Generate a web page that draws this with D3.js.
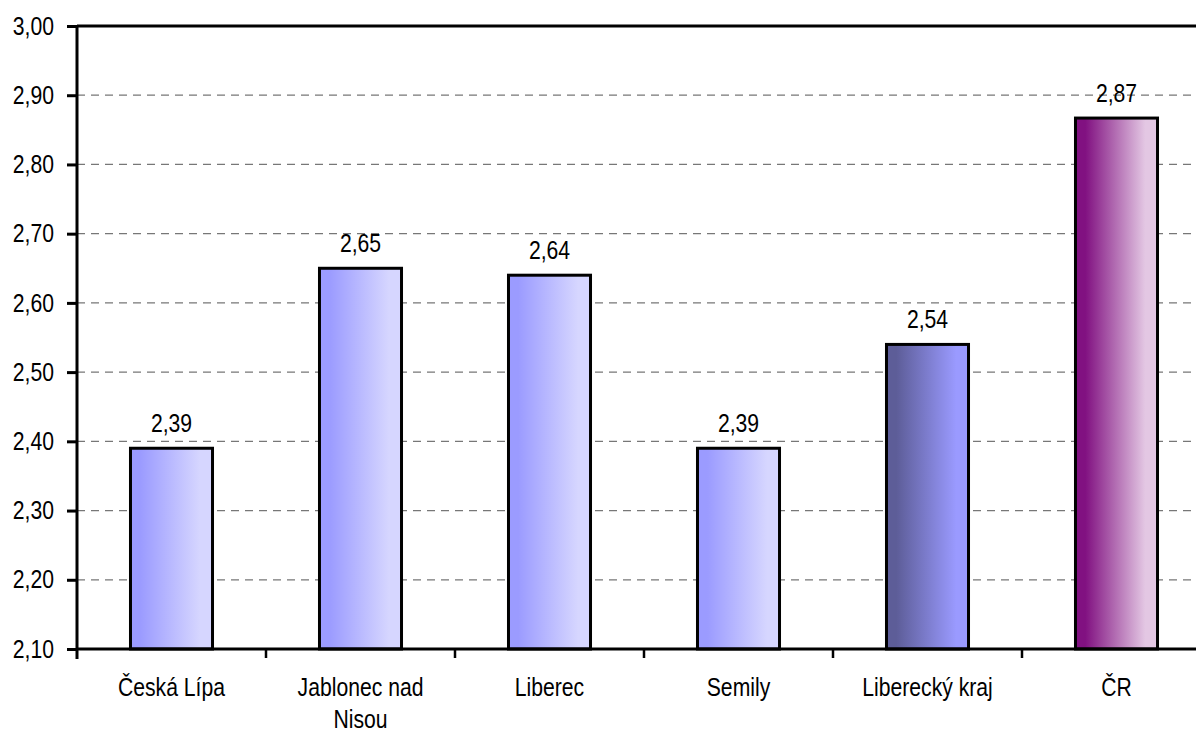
<!DOCTYPE html>
<html>
<head>
<meta charset="utf-8">
<script src="https://cdn.jsdelivr.net/npm/d3@7"></script>
<style>
  body { margin: 0; background: #fff; }
  text { font-family: Arial, "Liberation Sans", sans-serif; fill: #000; }
</style>
</head>
<body>
<div id="chart"></div>
<script>
var categories = ["Česká Lípa", "Jablonec nad Nisou", "Liberec", "Semily", "Liberecký kraj", "ČR"];
var values = [2.39, 2.65, 2.64, 2.39, 2.54, 2.867];
var fillKind = ["light", "light", "light", "light", "dark", "cr"];
var yTicks = [2.10, 2.20, 2.30, 2.40, 2.50, 2.60, 2.70, 2.80, 2.90, 3.00];

var margin = {top: 26, left: 77},
    W = 1196, H = 731,
    plotW = 189 * 6,
    plotH = 623,
    fs = 25.5, narrow = 0.83;   // Arial Narrow look-alike

var svg = d3.select("#chart").append("svg")
    .attr("width", W).attr("height", H);

var defs = svg.append("defs");
function grad(id, c1, c2) {
  var g = defs.append("linearGradient").attr("id", id)
    .attr("x1", "0%").attr("x2", "100%").attr("y1", "0%").attr("y2", "0%");
  g.append("stop").attr("offset", "12%").attr("stop-color", c1);
  g.append("stop").attr("offset", "85%").attr("stop-color", c2);
}
grad("light", "#9b9bff", "#d6d6ff");
grad("dark", "#5d5d98", "#9a9aff");
grad("cr", "#811181", "#e3c7e3");

var g = svg.append("g").attr("transform", "translate(" + margin.left + "," + margin.top + ")");

var x = d3.scaleBand().domain(categories).range([0, plotW]).paddingInner(0.566).paddingOuter(0.283);
var y = d3.scaleLinear().domain([2.1, 3.0]).range([plotH, 0]);
var fmt = function(v) { return d3.format(".2f")(v).replace(".", ","); };
function squeeze(px, py) { return "translate(" + px + "," + py + ") scale(" + narrow + ",1)"; }

// gridlines
g.selectAll("line.grid").data(yTicks.slice(1, -1)).enter().append("line")
  .attr("x1", 0).attr("x2", plotW)
  .attr("y1", function(d) { return y(d); }).attr("y2", function(d) { return y(d); })
  .attr("stroke", "#777").attr("stroke-width", 1.3).attr("stroke-dasharray", "8,6");
g.append("line").attr("x1", 0).attr("x2", plotW).attr("y1", y(3)).attr("y2", y(3))
  .attr("stroke", "#000").attr("stroke-width", 3);

// bars
g.selectAll("rect.bar").data(values).enter().append("rect")
  .attr("x", function(d, i) { return x(categories[i]); })
  .attr("width", x.bandwidth())
  .attr("y", function(d) { return y(d); })
  .attr("height", function(d) { return plotH - y(d); })
  .attr("fill", function(d, i) { return "url(#" + fillKind[i] + ")"; })
  .attr("stroke", "#000").attr("stroke-width", 3);

// value labels
g.selectAll("text.val").data(values).enter().append("text")
  .attr("transform", function(d, i) { return squeeze(x(categories[i]) + x.bandwidth() / 2, y(d) - 16); })
  .attr("text-anchor", "middle").style("font-size", fs + "px")
  .text(function(d) { return fmt(d); });

// y axis
var yAxis = g.append("g").call(d3.axisLeft(y).tickValues(yTicks).tickSize(10).tickPadding(12).tickFormat(fmt));
yAxis.select(".domain").attr("stroke-width", 3).attr("d", "M0,0V" + (plotH + 10));
yAxis.selectAll(".tick line").attr("stroke-width", 3);
yAxis.selectAll(".tick text").style("font-size", fs + "px").attr("font-family", null)
  .attr("x", 0).attr("transform", squeeze(-23, 0));

// x axis
var xAxis = g.append("g").attr("transform", "translate(0," + plotH + ")");
xAxis.append("line").attr("x1", 0).attr("x2", plotW).attr("stroke", "#000").attr("stroke-width", 3);
xAxis.selectAll("line.xt").data(d3.range(1, categories.length + 1)).enter().append("line")
  .attr("x1", function(d) { return d * x.step(); }).attr("x2", function(d) { return d * x.step(); })
  .attr("y1", 0).attr("y2", 9).attr("stroke", "#000").attr("stroke-width", 2.5);

var lbl = xAxis.selectAll("text.cat").data(categories).enter().append("text")
  .attr("transform", function(d) { return squeeze(x(d) + x.bandwidth() / 2, 47); })
  .attr("text-anchor", "middle").style("font-size", fs + "px");
lbl.each(function(d) {
  var t = d3.select(this), words = d.split(" "), line = [];
  var tspan = t.append("tspan").attr("x", 0).attr("dy", 0);
  words.forEach(function(w) {
    line.push(w);
    tspan.text(line.join(" "));
    if (tspan.node().getComputedTextLength() * narrow > 145 && line.length > 1) {
      line.pop();
      tspan.text(line.join(" "));
      line = [w];
      tspan = t.append("tspan").attr("x", 0).attr("dy", 32).text(w);
    }
  });
});
</script>
</body>
</html>
